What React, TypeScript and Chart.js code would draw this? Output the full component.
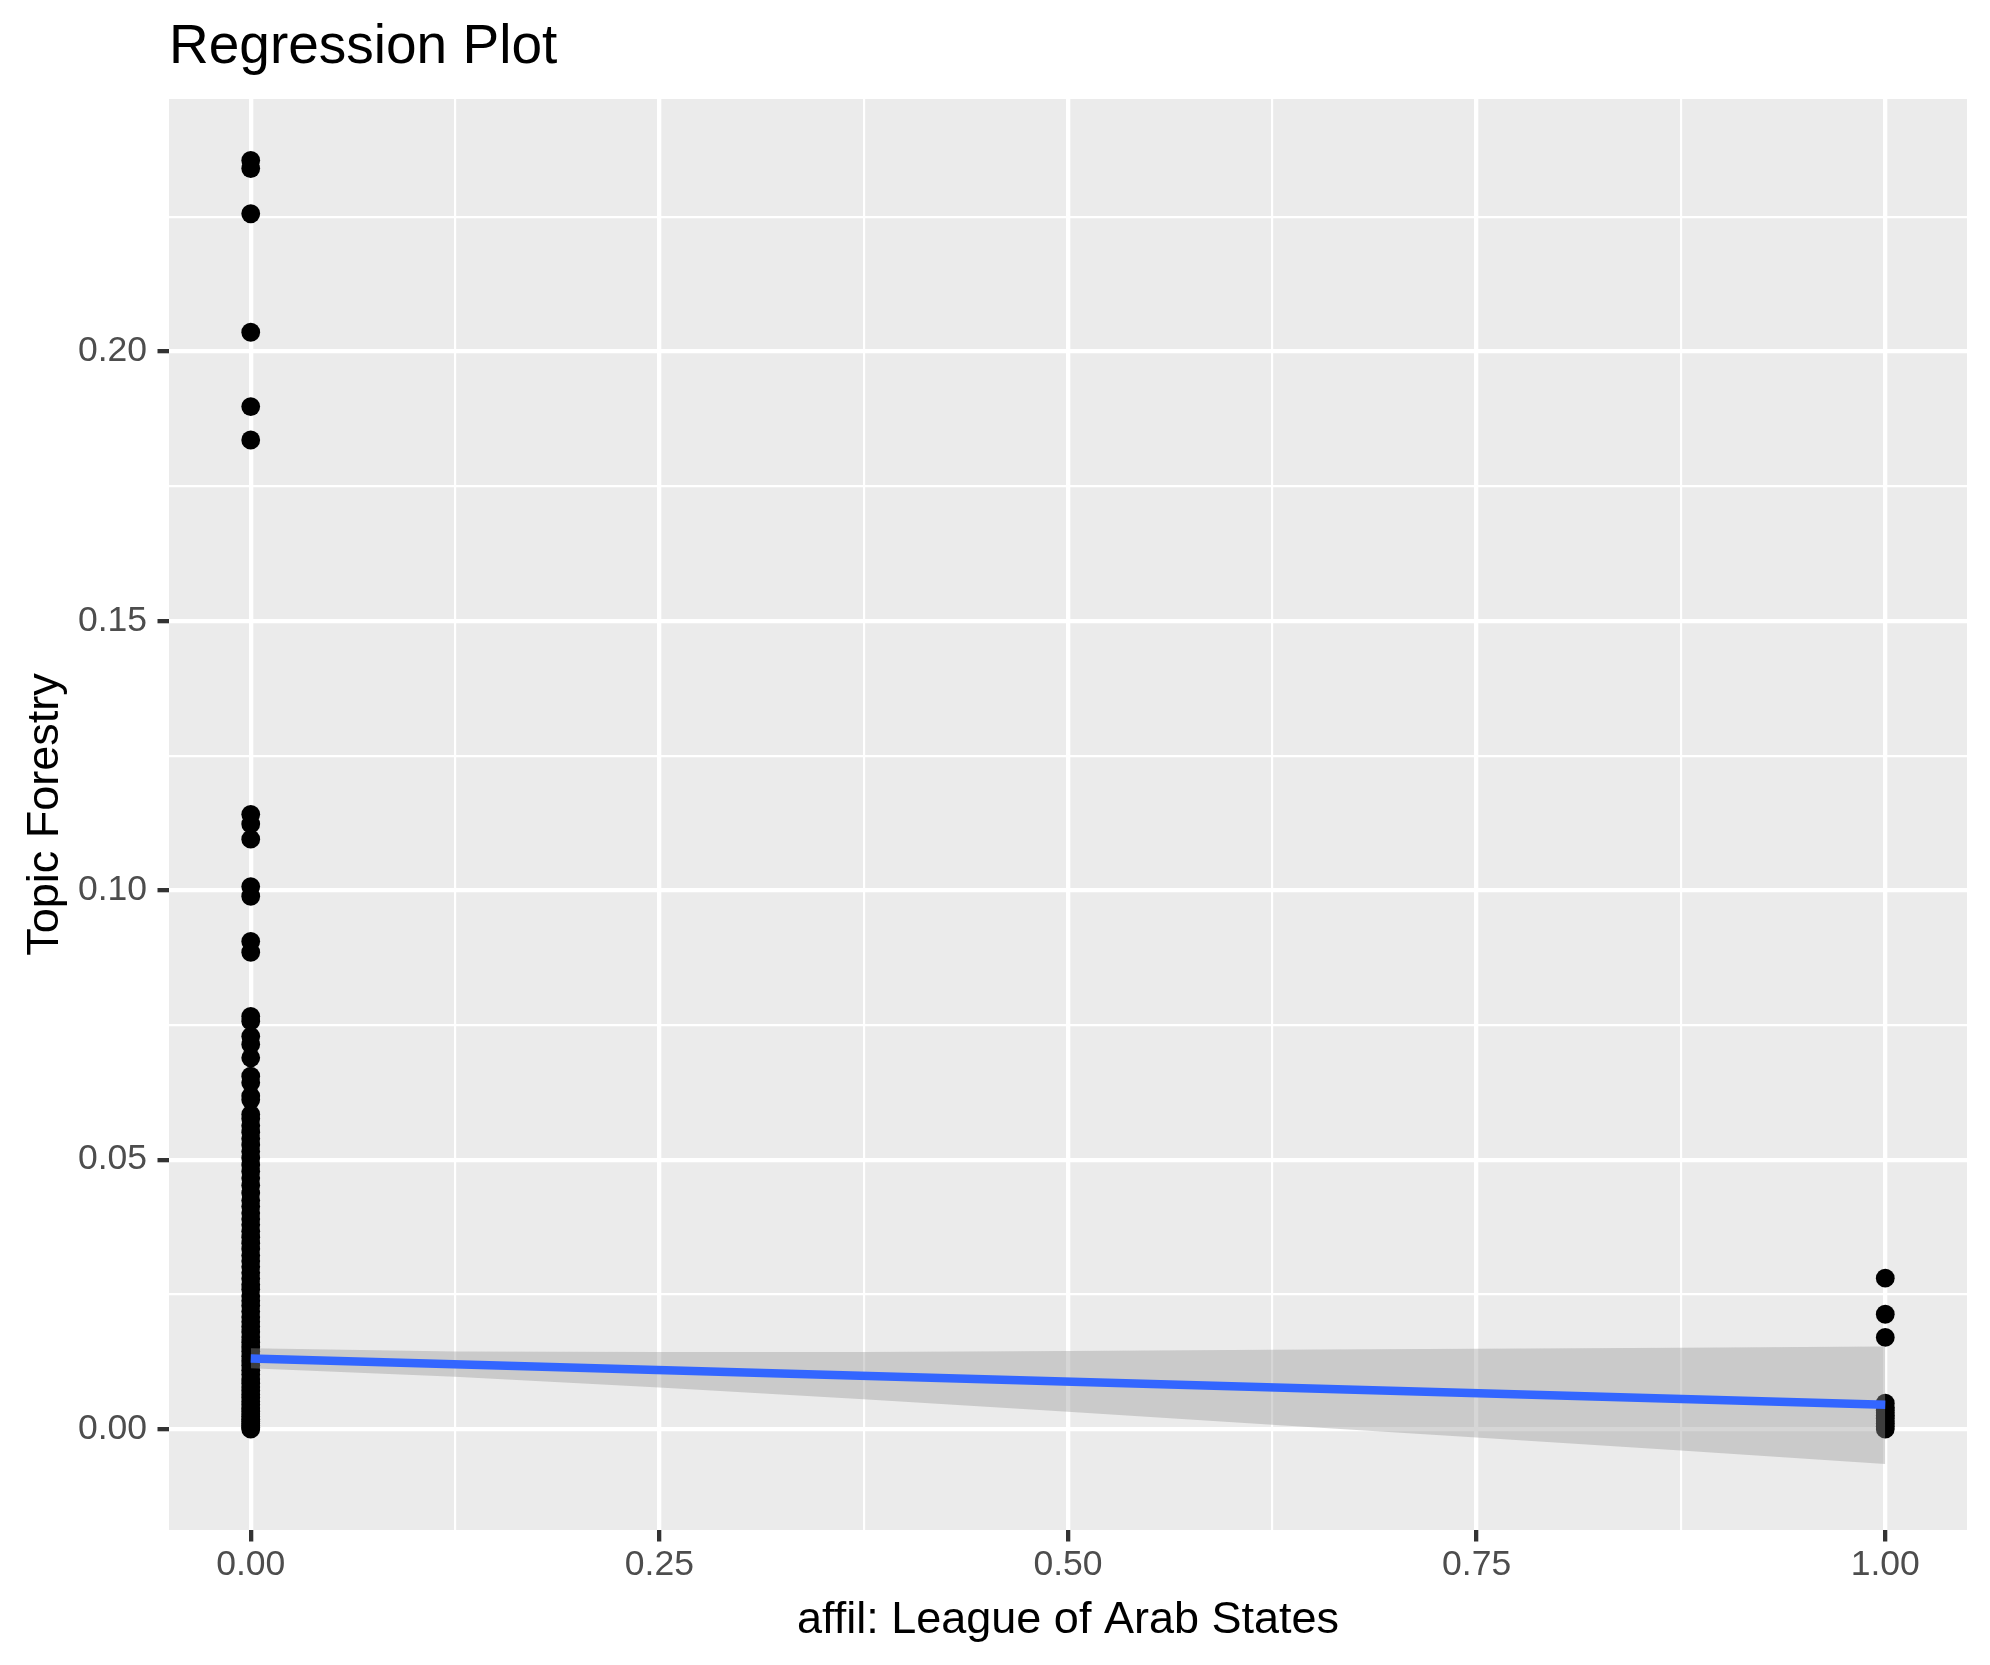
import React, { useEffect, useRef } from 'react';
import { Chart, registerables } from 'chart.js';

Chart.register(...registerables);

const W = 1990;
const H = 1665;
const FONT = '"Liberation Sans", Arial, Helvetica, sans-serif';

const titleText = 'Regression Plot';
const xTitleText = 'affil: League of Arab States';
const yTitleText = 'Topic Forestry';

const xMajorTicks = [0, 0.25, 0.5, 0.75, 1];
const xMinorTicks = [0.125, 0.375, 0.625, 0.875];
const yMajorTicks = [0, 0.05, 0.1, 0.15, 0.2];
const yMinorTicks = [0.025, 0.075, 0.125, 0.175, 0.225];

// Observations with affil = 0
const group0Values = [
  0, 0.0003, 0.0006, 0.001, 0.0014, 0.0018, 0.0023, 0.0028, 0.0033, 0.0039,
  0.0045, 0.0051, 0.0058, 0.0064, 0.0071, 0.0078, 0.0085, 0.0093, 0.0101, 0.0109,
  0.0118, 0.0126, 0.0135, 0.0144, 0.0152, 0.0161, 0.0171, 0.018, 0.019, 0.0199,
  0.0208, 0.0218, 0.0229, 0.0238, 0.0247, 0.0259, 0.0268, 0.0279, 0.029, 0.0301,
  0.0312, 0.0322, 0.0334, 0.0345, 0.0356, 0.0367, 0.0379, 0.039, 0.0401, 0.0413,
  0.0424, 0.0438, 0.0452, 0.0466, 0.0478, 0.049, 0.0503, 0.0515, 0.0527, 0.0539,
  0.0551, 0.0563, 0.0576, 0.0584, 0.0611, 0.0618, 0.0643, 0.0655, 0.0689, 0.0714,
  0.0729, 0.0757, 0.0766, 0.0885, 0.0905, 0.0989, 0.1007, 0.1095, 0.1123, 0.1141,
  0.1836, 0.1898, 0.2036, 0.2256, 0.234, 0.2355,
];

// Observations with affil = 1
const group1Values = [0, 0.0005, 0.001, 0.0015, 0.002, 0.0025, 0.003, 0.0035, 0.004, 0.0048, 0.017, 0.0213, 0.028];

// Fitted regression line
const fitX = [0, 1];
const fitY = [0.0131, 0.0045];

// Confidence band
const bandX = [0, 0.125, 0.25, 0.375, 0.5, 0.625, 0.75, 0.875, 1];
const bandUpper = [0.015, 0.0144, 0.0143, 0.0143, 0.0145, 0.0147, 0.0149, 0.0151, 0.0153];
const bandLower = [0.0113, 0.0097, 0.0077, 0.0055, 0.0032, 0.0008, -0.0016, -0.004, -0.0065];

const xMin = -0.05;
const xMax = 1.05;
const yMin = -0.01875;
const yMax = 0.2469;

const near = (list: number[], v: number) => list.some((t) => Math.abs(t - v) < 1e-9);

const PANEL_LEFT = 169;
const PANEL_RIGHT = 1967;
const PANEL_TOP = 99;
const PANEL_BOTTOM = 1530;

const panelBg = {
  id: 'panelBg',
  beforeDraw(chart: any) {
    const { ctx, chartArea } = chart;
    ctx.save();
    ctx.fillStyle = '#EBEBEB';
    ctx.fillRect(chartArea.left, chartArea.top, chartArea.right - chartArea.left, chartArea.bottom - chartArea.top);
    ctx.restore();
  },
};

const texts = {
  id: 'texts',
  afterDraw(chart: any) {
    const { ctx, chartArea } = chart;
    ctx.save();
    ctx.fillStyle = '#000000';
    ctx.textBaseline = 'alphabetic';
    ctx.font = `55px ${FONT}`;
    ctx.textAlign = 'left';
    ctx.fillText(titleText, chartArea.left, 63);

    ctx.font = `45px ${FONT}`;
    ctx.textAlign = 'center';
    ctx.fillText(xTitleText, (chartArea.left + chartArea.right) / 2, 1633);

    ctx.translate(58, (chartArea.top + chartArea.bottom) / 2);
    ctx.rotate(-Math.PI / 2);
    ctx.fillText(yTitleText, 0, 0);
    ctx.restore();
  },
};

export default function App() {
  const canvasRef = useRef<HTMLCanvasElement | null>(null);

  useEffect(() => {
    if (!canvasRef.current) return;
    const gridFor = (major: number[]) => ({
      display: true,
      drawOnChartArea: true,
      drawTicks: true,
      color: '#FFFFFF',
      lineWidth: (c: any) => (c.tick && near(major, c.tick.value) ? 4.3 : 2.15),
      tickColor: (c: any) => (c.tick && near(major, c.tick.value) ? '#333333' : 'rgba(0,0,0,0)'),
      tickWidth: 4.3,
      tickLength: 11.5,
    });

    const chart = new Chart(canvasRef.current, {
      type: 'line',
      data: {
        datasets: [
          {
            label: 'fit',
            data: fitX.map((x, i) => ({ x, y: fitY[i] })),
            borderColor: '#3366FF',
            borderWidth: 8.5,
            borderCapStyle: 'butt',
            pointRadius: 0,
            fill: false,
            tension: 0,
          },
          {
            label: 'upper',
            data: bandX.map((x, i) => ({ x, y: bandUpper[i] })),
            borderColor: 'rgba(0,0,0,0)',
            borderWidth: 0,
            pointRadius: 0,
            backgroundColor: 'rgba(153,153,153,0.4)',
            fill: '+1',
            tension: 0,
          },
          {
            label: 'lower',
            data: bandX.map((x, i) => ({ x, y: bandLower[i] })),
            borderColor: 'rgba(0,0,0,0)',
            borderWidth: 0,
            pointRadius: 0,
            fill: false,
            tension: 0,
          },
          {
            label: 'points',
            data: [
              ...group0Values.map((y) => ({ x: 0, y })),
              ...group1Values.map((y) => ({ x: 1, y })),
            ],
            showLine: false,
            pointRadius: 9.4,
            pointBackgroundColor: '#000000',
            pointBorderWidth: 0,
            pointBorderColor: 'rgba(0,0,0,0)',
            fill: false,
          },
        ],
      } as any,
      options: {
        animation: false,
        responsive: false,
        devicePixelRatio: 1,
        events: [],
        layout: { padding: { top: PANEL_TOP, right: W - PANEL_RIGHT, bottom: 0, left: 0 } },
        plugins: {
          legend: { display: false },
          tooltip: { enabled: false },
          title: { display: false },
        },
        scales: {
          x: {
            type: 'linear',
            min: xMin,
            max: xMax,
            afterBuildTicks: (axis: any) => {
              axis.ticks = [...xMajorTicks, ...xMinorTicks].sort((a, b) => a - b).map((v) => ({ value: v }));
            },
            afterFit: (axis: any) => {
              axis.height = H - PANEL_BOTTOM;
            },
            grid: gridFor(xMajorTicks) as any,
            border: { display: false },
            ticks: {
              autoSkip: false,
              maxRotation: 0,
              padding: 2.5,
              color: '#4D4D4D',
              font: { family: FONT, size: 35.5, lineHeight: 1.2 },
              callback: (v: any) => (near(xMajorTicks, Number(v)) ? Number(v).toFixed(2) : ''),
            },
          },
          y: {
            type: 'linear',
            min: yMin,
            max: yMax,
            afterBuildTicks: (axis: any) => {
              axis.ticks = [...yMajorTicks, ...yMinorTicks].sort((a, b) => a - b).map((v) => ({ value: v }));
            },
            afterFit: (axis: any) => {
              axis.width = PANEL_LEFT;
            },
            grid: gridFor(yMajorTicks) as any,
            border: { display: false },
            ticks: {
              autoSkip: false,
              padding: 10.5,
              color: '#4D4D4D',
              font: { family: FONT, size: 35.5, lineHeight: 1.2 },
              callback: (v: any) => (near(yMajorTicks, Number(v)) ? Number(v).toFixed(2) : ''),
            },
          },
        },
      } as any,
      plugins: [panelBg, texts],
    });
    return () => chart.destroy();
  }, []);

  return (
    <div style={{ position: 'absolute', left: 0, top: 0, width: W, height: H, background: '#FFFFFF' }}>
      <canvas ref={canvasRef} width={W} height={H} style={{ width: W, height: H, display: 'block' }} />
    </div>
  );
}
